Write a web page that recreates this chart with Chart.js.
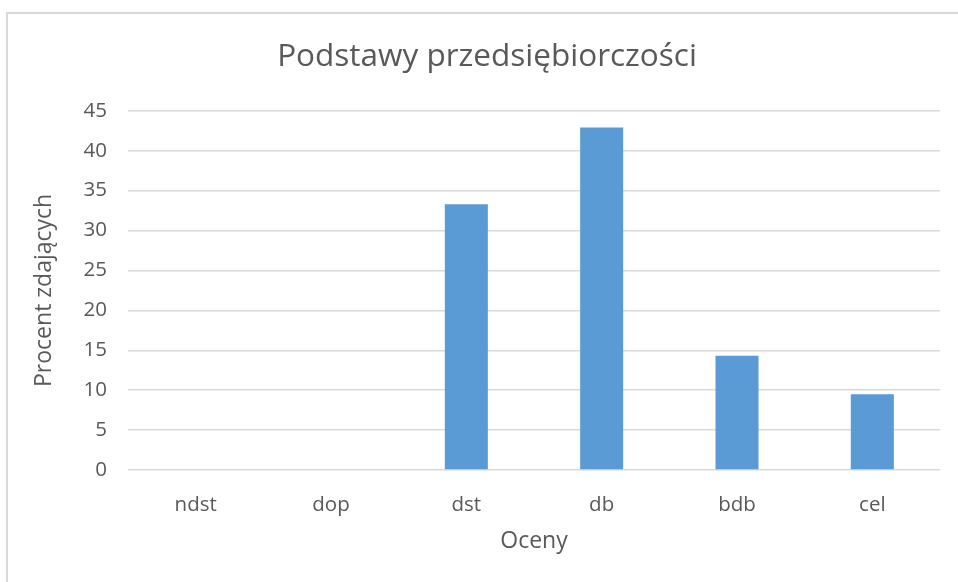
<!DOCTYPE html>
<html>
<head>
<meta charset="utf-8">
<script src="https://cdn.jsdelivr.net/npm/chart.js@4"></script>
<style>
  html, body { margin: 0; padding: 0; background: #fff; }
  #wrap { position: relative; width: 958px; height: 582px; overflow: hidden; }
  #frame { position: absolute; left: 6px; top: 12px; width: 970px; height: 600px;
           border-left: 2px solid #d9d9d9; border-top: 2px solid #d9d9d9; }
  canvas { position: absolute; left: 0; top: 0; }
</style>
</head>
<body>
<div id="wrap">
  <div id="frame"></div>
  <canvas id="chart" width="958" height="582"></canvas>
</div>
<script>
/* ---------- data ---------- */
const grades   = ["ndst", "dop", "dst", "db", "bdb", "cel"];
const percents = [0, 0, 33.3, 42.9, 14.3, 9.5];
const yTicks   = [0, 5, 10, 15, 20, 25, 30, 35, 40, 45];

const grey  = "#595959";
const font  = "'Open Sans', 'Noto Sans', sans-serif";

new Chart(document.getElementById("chart"), {
  type : "bar",
  data : {
    labels : grades,
    datasets : [{
      data : percents,
      backgroundColor : "#5b9bd5",
      borderWidth : 0,
      barPercentage : 1,
      categoryPercentage : 0.318
    }]
  },
  options : {
    responsive : false, animation : false,
    layout : { padding : { left : 16, right : 0, top : 0, bottom : 0 } },
    plugins : {
      legend : { display : false },
      tooltip : { enabled : false },
      title : {
        display : true, text : "Podstawy przedsiębiorczości", color : grey,
        font : { family : font, size : 31.5, weight : "normal" },
        padding : { top : 38, bottom : 35 }
      }
    },
    scales : {
      x : {
        grid : { display : false },
        border : { display : false },
        ticks : { color : grey, padding : 15, font : { family : font, size : 20.5 } },
        title : { display : true, text : "Oceny", color : grey,
                  font : { family : font, size : 23 }, padding : { top : 0, bottom : 27 } },
        afterFit : s => { s.height = 112; }
      },
      y : {
        min : 0, max : 45,
        afterBuildTicks : s => { s.ticks = yTicks.map(v => ({ value : v })); },
        grid : { color : "#d9d9d9", lineWidth : 1.5, drawTicks : false },
        border : { display : false },
        ticks : { color : grey, padding : 21, font : { family : font, size : 20.5 } },
        title : { display : true, text : "Procent zdających", color : grey,
                  font : { family : font, size : 23 }, padding : { top : 15, bottom : 0 } },
        afterFit : s => { s.width = 112; }
      },
      // empty right-hand scale, keeps the plot clear of the right edge
      yR : {
        position : "right", display : true,
        grid : { display : false }, border : { display : false },
        ticks : { display : false },
        afterFit : s => { s.width = 18; }
      }
    }
  }
});
</script>
</body>
</html>
